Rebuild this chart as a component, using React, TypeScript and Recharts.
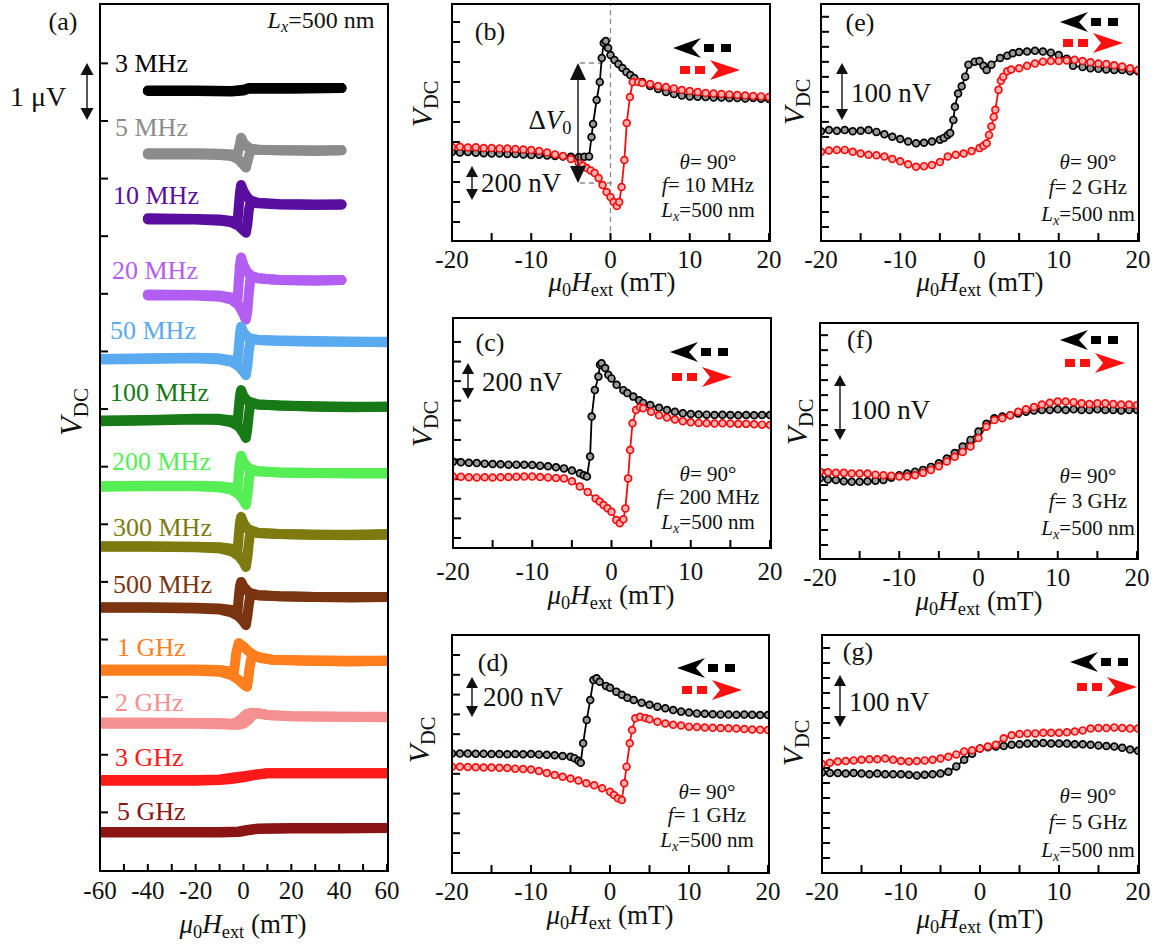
import React from "react";
import { LineChart, Line, XAxis, YAxis, ReferenceLine } from "recharts";

const SERIF = '"Liberation Serif", "Times New Roman", serif';

type Pt = [number, number];

// ---------- panel (a): V_DC traces (uV, offset stacked), down- and up-sweep ----------
const a3MHzDown: Pt[] = [[-40, 13.53], [-20, 13.53], [-5, 13.52], [0, 13.54], [2, 13.57], [20, 13.57], [41, 13.57]];
const a3MHzUp: Pt[] = [[-40, 13.52], [-20, 13.52], [-5, 13.51], [0, 13.53], [2, 13.56], [20, 13.56], [41, 13.57]];
const a5MHzDown: Pt[] = [[-40, 12.44], [-20, 12.44], [-10, 12.43], [-4, 12.42], [-2.5, 12.42], [-1.5, 12.6], [-1, 12.71], [0, 12.62], [1.5, 12.56], [3, 12.52], [6, 12.5], [15, 12.49], [30, 12.49], [41, 12.49]];
const a5MHzUp: Pt[] = [[-40, 12.42], [-20, 12.42], [-10, 12.41], [-5, 12.39], [-2, 12.33], [0, 12.24], [1, 12.19], [2, 12.35], [3, 12.5], [6, 12.5], [15, 12.49], [30, 12.48], [41, 12.49]];
const a10MHzDown: Pt[] = [[-40, 11.31], [-20, 11.3], [-10, 11.29], [-4, 11.26], [-2.5, 11.25], [-2, 11.5], [-1.5, 11.75], [-1, 11.89], [0, 11.78], [1.5, 11.68], [3, 11.62], [6, 11.58], [15, 11.56], [30, 11.55], [41, 11.55]];
const a10MHzUp: Pt[] = [[-40, 11.29], [-20, 11.29], [-10, 11.27], [-5, 11.24], [-2, 11.18], [0, 11.1], [1, 11.06], [1.6, 11.2], [2.2, 11.45], [3, 11.6], [6, 11.57], [15, 11.55], [30, 11.54], [41, 11.55]];
const a20MHzDown: Pt[] = [[-40, 9.99], [-20, 9.98], [-10, 9.97], [-4, 9.93], [-2.5, 9.9], [-2, 10.2], [-1.5, 10.5], [-1, 10.63], [0, 10.5], [1.5, 10.38], [3, 10.32], [6, 10.27], [15, 10.24], [30, 10.23], [41, 10.24]];
const a20MHzUp: Pt[] = [[-40, 9.97], [-20, 9.97], [-10, 9.95], [-5, 9.9], [-2, 9.8], [0, 9.65], [1, 9.55], [1.6, 9.7], [2.2, 10.0], [3, 10.3], [6, 10.27], [15, 10.24], [30, 10.23], [41, 10.24]];
const a50MHzDown: Pt[] = [[-60, 8.87], [-40, 8.88], [-20, 8.89], [-10, 8.88], [-4, 8.84], [-2.5, 8.82], [-2, 9.05], [-1.5, 9.3], [-1, 9.43], [0, 9.33], [1.5, 9.26], [3, 9.22], [6, 9.2], [15, 9.19], [30, 9.18], [45, 9.17], [60, 9.17]];
const a50MHzUp: Pt[] = [[-60, 8.86], [-40, 8.87], [-20, 8.88], [-10, 8.86], [-5, 8.82], [-2, 8.74], [0, 8.65], [1, 8.59], [1.6, 8.75], [2.2, 9.0], [3, 9.22], [6, 9.2], [15, 9.18], [30, 9.17], [45, 9.17], [60, 9.16]];
const a100MHzDown: Pt[] = [[-60, 7.8], [-40, 7.81], [-20, 7.83], [-10, 7.83], [-4, 7.8], [-2.5, 7.78], [-2, 8.0], [-1.5, 8.22], [-1, 8.33], [0, 8.22], [1.5, 8.15], [3, 8.11], [6, 8.08], [15, 8.06], [30, 8.05], [45, 8.04], [60, 8.04]];
const a100MHzUp: Pt[] = [[-60, 7.79], [-40, 7.8], [-20, 7.82], [-10, 7.81], [-5, 7.77], [-2, 7.7], [0, 7.58], [1, 7.5], [1.6, 7.65], [2.2, 7.9], [3, 8.12], [6, 8.08], [15, 8.06], [30, 8.04], [45, 8.03], [60, 8.04]];
const a200MHzDown: Pt[] = [[-60, 6.66], [-40, 6.67], [-20, 6.67], [-10, 6.66], [-4, 6.63], [-2.5, 6.6], [-2, 6.85], [-1.5, 7.08], [-1, 7.19], [0, 7.08], [1.5, 7.0], [3, 6.95], [6, 6.92], [15, 6.9], [30, 6.89], [45, 6.89], [60, 6.89]];
const a200MHzUp: Pt[] = [[-60, 6.65], [-40, 6.66], [-20, 6.66], [-10, 6.64], [-5, 6.6], [-2, 6.52], [0, 6.42], [1, 6.34], [1.6, 6.5], [2.2, 6.75], [3, 6.96], [6, 6.92], [15, 6.9], [30, 6.89], [45, 6.88], [60, 6.88]];
const a300MHzDown: Pt[] = [[-60, 5.62], [-40, 5.62], [-20, 5.61], [-10, 5.6], [-4, 5.57], [-2.5, 5.54], [-2, 5.8], [-1.5, 6.02], [-1, 6.13], [0, 6.02], [1.5, 5.93], [3, 5.88], [6, 5.85], [15, 5.83], [30, 5.82], [45, 5.82], [60, 5.83]];
const a300MHzUp: Pt[] = [[-60, 5.61], [-40, 5.61], [-20, 5.6], [-10, 5.58], [-5, 5.53], [-2, 5.45], [0, 5.34], [1, 5.26], [1.6, 5.42], [2.2, 5.67], [3, 5.9], [6, 5.85], [15, 5.83], [30, 5.82], [45, 5.81], [60, 5.82]];
const a500MHzDown: Pt[] = [[-60, 4.56], [-40, 4.56], [-20, 4.55], [-10, 4.54], [-4, 4.51], [-2.5, 4.48], [-2, 4.72], [-1.5, 4.92], [-1, 5.0], [0, 4.92], [1.5, 4.85], [3, 4.8], [6, 4.77], [15, 4.75], [30, 4.74], [45, 4.74], [60, 4.74]];
const a500MHzUp: Pt[] = [[-60, 4.55], [-40, 4.55], [-20, 4.54], [-10, 4.52], [-5, 4.47], [-2, 4.4], [0, 4.31], [1, 4.25], [1.6, 4.4], [2.2, 4.6], [3, 4.8], [6, 4.77], [15, 4.75], [30, 4.74], [45, 4.73], [60, 4.74]];
const a1GHzDown: Pt[] = [[-60, 3.48], [-40, 3.48], [-20, 3.48], [-10, 3.47], [-5, 3.44], [-4, 3.43], [-3.5, 3.6], [-3, 3.78], [-2, 3.94], [0, 3.88], [2, 3.8], [4, 3.74], [7, 3.68], [12, 3.65], [25, 3.64], [45, 3.63], [60, 3.63]];
const a1GHzUp: Pt[] = [[-60, 3.46], [-40, 3.46], [-20, 3.46], [-10, 3.44], [-5, 3.38], [-2, 3.3], [0, 3.22], [1.5, 3.18], [2, 3.32], [2.5, 3.5], [3.5, 3.72], [6, 3.7], [12, 3.65], [25, 3.63], [45, 3.62], [60, 3.63]];
const a2GHzDown: Pt[] = [[-60, 2.56], [-40, 2.56], [-20, 2.55], [-10, 2.55], [-5, 2.54], [-3, 2.56], [-1, 2.62], [1, 2.7], [3, 2.73], [6, 2.72], [10, 2.69], [20, 2.67], [40, 2.66], [60, 2.66]];
const a2GHzUp: Pt[] = [[-60, 2.54], [-40, 2.54], [-20, 2.54], [-10, 2.53], [-5, 2.52], [-2, 2.52], [0, 2.54], [2, 2.6], [4, 2.7], [6, 2.72], [10, 2.69], [20, 2.67], [40, 2.66], [60, 2.65]];
const a3GHzDown: Pt[] = [[-60, 1.56], [-40, 1.56], [-20, 1.56], [-10, 1.57], [-5, 1.6], [0, 1.63], [5, 1.66], [10, 1.68], [20, 1.68], [40, 1.68], [60, 1.68]];
const a3GHzUp: Pt[] = [[-60, 1.55], [-40, 1.55], [-20, 1.55], [-10, 1.56], [-5, 1.58], [0, 1.61], [5, 1.65], [10, 1.68], [20, 1.68], [40, 1.68], [60, 1.68]];
const a5GHzDown: Pt[] = [[-60, 0.66], [-40, 0.66], [-20, 0.66], [-10, 0.66], [-2, 0.67], [2, 0.7], [6, 0.72], [20, 0.73], [40, 0.73], [60, 0.73]];
const a5GHzUp: Pt[] = [[-60, 0.65], [-40, 0.65], [-20, 0.65], [-10, 0.65], [-2, 0.66], [2, 0.69], [6, 0.71], [20, 0.72], [40, 0.72], [60, 0.73]];

const aLabels = ["3 MHz", "5 MHz", "10 MHz", "20 MHz", "50 MHz", "100 MHz", "200 MHz", "300 MHz", "500 MHz", "1 GHz", "2 GHz", "3 GHz", "5 GHz"];
const aColors = ["#000000", "#8c8c8c", "#5a0ea0", "#b25ef2", "#5aaaf0", "#177a17", "#55ee55", "#7d7a10", "#7a3510", "#ff7f1e", "#f49090", "#ff1a1a", "#8b1515"];
const aDown = [a3MHzDown, a5MHzDown, a10MHzDown, a20MHzDown, a50MHzDown, a100MHzDown, a200MHzDown, a300MHzDown, a500MHzDown, a1GHzDown, a2GHzDown, a3GHzDown, a5GHzDown];
const aUp = [a3MHzUp, a5MHzUp, a10MHzUp, a20MHzUp, a50MHzUp, a100MHzUp, a200MHzUp, a300MHzUp, a500MHzUp, a1GHzUp, a2GHzUp, a3GHzUp, a5GHzUp];

// ---------- panels (b)-(g): black = sweep down, red = sweep up (nV) ----------
const bBlack: Pt[] = [[-20, 440], [-19, 438], [-18, 440], [-17, 436], [-16, 434], [-15, 432], [-14, 433], [-13, 430], [-12, 430], [-11, 428], [-10, 425], [-9, 426], [-8, 422], [-7, 420], [-6, 418], [-5, 416], [-4, 415], [-3.3, 416], [-2.7, 418], [-2.4, 515], [-2.2, 580], [-1.75, 700], [-1.35, 790], [-1.1, 910], [-0.85, 985], [-0.6, 995], [-0.3, 960], [0, 925], [0.5, 900], [1, 880], [1.5, 860], [2, 840], [2.5, 825], [3, 810], [4, 790], [5, 770], [6, 755], [7, 740], [8, 730], [9, 722], [10, 718], [11, 716], [12, 715], [13, 712], [14, 712], [15, 710], [16, 710], [17, 708], [18, 710], [19, 706], [20, 705]];
const bRed: Pt[] = [[-20, 465], [-19, 466], [-18, 462], [-17, 464], [-16, 460], [-15, 460], [-14, 458], [-13, 457], [-12, 455], [-11, 452], [-10, 450], [-9, 445], [-8, 437], [-7, 428], [-6, 420], [-5, 405], [-4, 385], [-3.5, 372], [-3, 360], [-2.5, 348], [-2, 335], [-1.5, 310], [-1, 275], [-0.5, 240], [0, 215], [0.4, 190], [0.8, 170], [1.1, 190], [1.4, 265], [1.75, 400], [2.05, 585], [2.45, 715], [2.8, 790], [3.5, 790], [4, 785], [5, 780], [6, 770], [7, 765], [8, 758], [9, 750], [10, 745], [11, 740], [12, 735], [13, 732], [14, 730], [15, 728], [16, 725], [17, 722], [18, 720], [19, 718], [20, 715]];

const cBlack: Pt[] = [[-20, 435], [-19, 432], [-18, 430], [-17, 428], [-16, 425], [-15, 423], [-14, 422], [-13, 420], [-12, 420], [-11, 419], [-10, 418], [-9, 415], [-8, 412], [-7, 407], [-6, 401], [-5, 390], [-4, 376], [-3.5, 366], [-3.1, 359], [-2.7, 461], [-2.5, 665], [-2.1, 801], [-1.65, 869], [-1.45, 929], [-1.25, 937], [-0.8, 913], [-0.4, 878], [0, 860], [0.65, 827], [1.5, 800], [2, 785], [2.75, 767], [3.5, 748], [4, 735], [4.9, 724], [6, 710], [7, 699], [8, 690], [9, 682], [10, 678], [11, 676], [12, 675], [13, 673], [14, 674], [15, 673], [16, 672], [17, 673], [18, 672], [19, 673], [20, 673]];
const cRed: Pt[] = [[-20, 359], [-19, 358], [-18, 356], [-17, 355], [-16, 356], [-15, 354], [-14, 356], [-13, 357], [-12, 358], [-11, 359], [-10, 359], [-9, 357], [-8, 355], [-7, 352], [-6, 350], [-5, 335], [-4, 308], [-3, 280], [-2, 248], [-1.5, 232], [-1, 214], [-0.5, 198], [0, 180], [0.6, 138], [1.05, 121], [1.5, 141], [1.75, 197], [2.1, 350], [2.35, 495], [2.65, 631], [3.1, 699], [3.6, 713], [4, 708], [5, 690], [6, 672], [7, 660], [8, 650], [9, 642], [10, 636], [11, 633], [12, 631], [13, 630], [14, 631], [15, 630], [16, 628], [17, 628], [18, 626], [19, 624], [20, 622]];

const dBlack: Pt[] = [[-20, 599], [-19, 598], [-18, 598], [-17, 597], [-16, 597], [-15, 596], [-14, 596], [-13, 595], [-12, 596], [-11, 595], [-10, 596], [-9, 594], [-8, 592], [-7, 590], [-6, 586], [-5, 582], [-4.5, 575], [-4, 562], [-3.7, 552], [-3.4, 650], [-2.95, 768], [-2.5, 869], [-2.1, 970], [-1.7, 978], [-1.3, 961], [-0.5, 940], [0, 930], [0.8, 911], [1.5, 895], [2.2, 880], [3, 869], [4, 855], [5, 845], [6, 835], [7, 827], [8, 818], [9, 810], [10, 805], [11, 801], [12, 799], [13, 797], [14, 796], [15, 795], [16, 794], [17, 795], [18, 794], [19, 793], [20, 793]];
const dRed: Pt[] = [[-20, 532], [-19, 531], [-18, 530], [-17, 529], [-16, 528], [-15, 528], [-14, 526], [-13, 525], [-12, 522], [-11, 520], [-10, 518], [-9, 510], [-8, 500], [-7, 490], [-6, 481], [-5, 472], [-4, 462], [-3, 448], [-2, 438], [-1, 423], [0, 405], [0.5, 389], [1, 372], [1.5, 364], [1.8, 448], [2.1, 532], [2.5, 650], [2.8, 717], [3.2, 776], [3.8, 784], [4.5, 778], [5, 772], [6, 759], [7, 750], [8, 744], [9, 740], [10, 734], [11, 732], [12, 730], [13, 728], [14, 727], [15, 726], [16, 725], [17, 722], [18, 720], [19, 718], [20, 717]];

const eBlack: Pt[] = [[-20, 181], [-19, 183], [-18, 182], [-17, 183], [-16, 181], [-15, 182], [-14, 183], [-13, 180], [-12, 176], [-11, 172], [-10, 168], [-9, 164], [-8, 161], [-7, 162], [-6, 164], [-5, 167], [-4.5, 170], [-4, 175], [-3.7, 178], [-3.3, 200], [-3.1, 222], [-2.7, 244], [-2.25, 256], [-1.8, 272], [-1.4, 292], [-0.6, 297], [0, 298], [0.5, 290], [0.9, 283], [1.5, 292], [2.6, 303], [3.5, 307], [4.2, 311], [5, 313], [6, 314], [7, 315], [8, 314], [9, 312], [10, 308], [11, 302], [11.8, 290], [13, 288], [14, 286], [15, 285], [16, 284], [17, 283], [18, 283], [19, 281], [20, 281]];
const eRed: Pt[] = [[-20, 147], [-19, 149], [-18, 150], [-17, 150], [-16, 147], [-15, 144], [-14, 142], [-13, 141], [-12, 139], [-11, 135], [-10, 131], [-9, 126], [-8, 122], [-7, 123], [-6, 125], [-5, 130], [-4, 139], [-3, 142], [-2, 144], [-1, 148], [0, 153], [0.5, 157], [0.9, 161], [1.2, 175], [1.5, 189], [1.8, 205], [2, 217], [2.4, 250], [2.7, 265], [3, 272], [3.5, 281], [4, 284], [5, 286], [6, 290], [7, 294], [8, 297], [9, 298], [10, 298], [11, 299], [12, 300], [13, 298], [14, 296], [15, 294], [16, 293], [17, 291], [18, 289], [19, 286], [20, 283]];

const fBlack: Pt[] = [[-20, 133], [-19, 131], [-18, 130], [-17, 128], [-16, 127], [-15, 127], [-14, 128], [-13, 129], [-12, 130], [-11, 134], [-10, 138], [-9, 141], [-8, 144], [-7, 147], [-6, 152], [-5, 158], [-4, 166], [-3, 175], [-2, 186], [-1, 197], [0, 211], [1, 224], [2, 233], [3, 236], [4, 238], [5, 241], [6, 244], [7, 246], [8, 247], [9, 247], [10, 248], [11, 247], [12, 248], [13, 247], [14, 247], [15, 248], [16, 247], [17, 247], [18, 246], [19, 247], [20, 247]];
const fRed: Pt[] = [[-20, 144], [-19, 143], [-18, 142], [-17, 142], [-16, 141], [-15, 141], [-14, 141], [-13, 139], [-12, 138], [-11, 137], [-10, 136], [-9, 136], [-8, 138], [-7, 142], [-6, 147], [-5, 153], [-4, 161], [-3, 169], [-2, 177], [-1, 186], [0, 200], [1, 219], [2, 230], [3, 233], [4, 238], [5, 244], [6, 248], [7, 252], [8, 256], [9, 259], [10, 261], [11, 261], [12, 260], [13, 258], [14, 257], [15, 258], [16, 258], [17, 257], [18, 256], [19, 256], [20, 255]];

const gBlack: Pt[] = [[-20, 166], [-19, 165], [-18, 165], [-17, 164], [-16, 165], [-15, 164], [-14, 163], [-13, 164], [-12, 163], [-11, 163], [-10, 163], [-9, 162], [-8, 161], [-7, 162], [-6, 163], [-5, 164], [-4, 167], [-3, 176], [-2, 187], [-1, 197], [0, 206], [1, 208], [2, 209], [3, 210], [4, 212], [5, 213], [6, 214], [7, 214], [8, 215], [9, 214], [10, 214], [11, 214], [12, 213], [13, 213], [14, 212], [15, 211], [16, 210], [17, 209], [18, 207], [19, 204], [20, 202]];
const gRed: Pt[] = [[-20, 180], [-19, 182], [-18, 184], [-17, 185], [-16, 186], [-15, 187], [-14, 188], [-13, 188], [-12, 189], [-11, 187], [-10, 185], [-9, 184], [-8, 185], [-7, 186], [-6, 187], [-5, 189], [-4, 192], [-3, 196], [-2, 201], [-1, 203], [0, 206], [1, 209], [2, 212], [3, 223], [4, 228], [5, 230], [6, 231], [7, 231], [8, 232], [9, 232], [10, 232], [11, 233], [12, 234], [13, 236], [14, 239], [15, 240], [16, 240], [17, 241], [18, 240], [19, 239], [20, 239]];

// ---------- axes ----------
const aXTicks = [-60, -50, -40, -30, -20, -10, 0, 10, 20, 30, 40, 50, 60];
const aXLabels = [-60, -40, -20, 0, 20, 40, 60];
const smallXTicks = [-20, -15, -10, -5, 0, 5, 10, 15, 20];
const smallXLabels = [-20, -10, 0, 10, 20];
const freqLabels = ["10 MHz", "200 MHz", "1 GHz", "2 GHz", "3 GHz", "5 GHz"];

const ticksFrom = (start: number, step: number, n: number) =>
  Array.from({ length: n }, (_, i) => +(start + i * step).toFixed(2));

const pts = (a: Pt[]) => a.map(([x, y]) => ({ x, y }));

type Box = { x: number; y: number; w: number; h: number };
type SeriesCfg = { data: Pt[]; stroke: string; fill?: string; width: number; r: number };

function Panel({
  box, xDomain, xTicks, xLabels, yDomain, yTicks, series, labelGap = 17.5, xTickLen = 7, refLines,
}: {
  box: Box; xDomain: [number, number]; xTicks: number[]; xLabels: number[];
  yDomain: [number, number]; yTicks: number[]; series: SeriesCfg[]; labelGap?: number; xTickLen?: number;
  refLines?: React.ReactNode[];
}) {
  const ML = 60, MT = 10, MR = 30, MB = 50;
  return (
    <>
      <div style={{ position: "absolute", left: box.x - ML, top: box.y - MT }}>
        <LineChart width={box.w + ML + MR} height={box.h + MT + MB} margin={{ top: MT, right: MR, bottom: 0, left: 0 }}>
          <XAxis
            type="number" dataKey="x" domain={xDomain} ticks={xTicks} interval={0} allowDataOverflow
            height={MB} axisLine={false} tickSize={-xTickLen} tickMargin={labelGap}
            tickLine={{ stroke: "#000", strokeWidth: 2 }}
            tick={{ fill: "#111", fontSize: 25, fontFamily: SERIF }}
            tickFormatter={(v: number) => (xLabels.includes(v) ? String(v) : "")}
          />
          <YAxis
            type="number" domain={yDomain} ticks={yTicks} interval={0} allowDataOverflow
            width={ML} axisLine={false} tickSize={-8} tickFormatter={() => ""}
            tickLine={{ stroke: "#000", strokeWidth: 2 }}
          />
          {refLines}
          {series.map((s, i) => (
            <Line
              key={i} data={pts(s.data)} dataKey="y" type="linear" stroke={s.stroke} strokeWidth={s.width}
              strokeLinecap="round" strokeLinejoin="round"
              dot={s.r > 0 ? { r: s.r, fill: s.fill, stroke: s.stroke, strokeWidth: 1.7 } : false}
              activeDot={false} isAnimationActive={false}
            />
          ))}
        </LineChart>
      </div>
      <div style={{
        position: "absolute", left: box.x - 1.5, top: box.y - 1.5, width: box.w + 3, height: box.h + 3,
        border: "2.5px solid #000", boxSizing: "border-box", pointerEvents: "none",
      }} />
    </>
  );
}

function Txt({ x, y, size = 22, color = "#111", rot = false, align = "center", children }: {
  x: number; y: number; size?: number; color?: string; rot?: boolean; align?: "center" | "left"; children: React.ReactNode;
}) {
  const tx = align === "left" ? "0" : "-50%";
  return (
    <div style={{
      position: "absolute", left: x, top: y, whiteSpace: "nowrap", fontFamily: SERIF, fontSize: size, color,
      lineHeight: 0.85, transform: `translate(${tx}, -50%)${rot ? " rotate(-90deg)" : ""}`,
    }}>{children}</div>
  );
}

const I = ({ children }: { children: React.ReactNode }) => <span style={{ fontStyle: "italic" }}>{children}</span>;
const Sub = ({ children, it = false }: { children: React.ReactNode; it?: boolean }) => (
  <span style={{ fontSize: "0.68em", verticalAlign: "-0.28em", fontStyle: it ? "italic" : "normal" }}>{children}</span>
);

const XTitle = () => (<><I>μ</I><Sub>0</Sub><I>H</I><Sub>ext</Sub> (mT)</>);
const VDC = () => (<><I>V</I><Sub>DC</Sub></>);
const Lx = () => (<><I>L</I><Sub it>x</Sub>=500 nm</>);

function VArrow({ x, y1, y2, hw = 12, hh = 11 }: { x: number; y1: number; y2: number; hw?: number; hh?: number }) {
  return (
    <g fill="#111">
      <line x1={x} y1={y1 + hh - 1} x2={x} y2={y2 - hh + 1} stroke="#111" strokeWidth={1.4} />
      <polygon points={`${x},${y1} ${x - hw / 2},${y1 + hh} ${x + hw / 2},${y1 + hh}`} />
      <polygon points={`${x},${y2} ${x - hw / 2},${y2 - hh} ${x + hw / 2},${y2 - hh}`} />
    </g>
  );
}

function LegLeft({ x, y }: { x: number; y: number }) {
  return (
    <g fill="#000">
      <polygon points={`${x},${y} ${x + 28},${y - 10} ${x + 19},${y} ${x + 28},${y + 10}`} />
      <rect x={x + 31} y={y - 4} width={10} height={8} />
      <rect x={x + 48} y={y - 4} width={10} height={8} />
    </g>
  );
}

function LegRight({ x, y }: { x: number; y: number }) {
  return (
    <g fill="#ff1010">
      <rect x={x} y={y - 4} width={10} height={8} />
      <rect x={x + 15} y={y - 4} width={10} height={8} />
      <polygon points={`${x + 60},${y} ${x + 30},${y - 10} ${x + 38},${y} ${x + 30},${y + 10}`} />
    </g>
  );
}

const blk = (data: Pt[]): SeriesCfg => ({ data, stroke: "#000", fill: "#9a9a9a", width: 1.8, r: 3.4 });
const red = (data: Pt[]): SeriesCfg => ({ data, stroke: "#f01010", fill: "#ffb0b0", width: 1.8, r: 3.4 });

const aLabelY = [64, 128, 196, 271, 331, 393, 462, 528, 585, 648, 703, 758, 812];
const aLabelX = [115, 115, 113, 112, 110, 110, 112, 113, 113, 117, 115, 115, 117];

export default function App() {
  const boxA = { x: 100, y: 4, w: 287, h: 866 };
  const boxB = { x: 452, y: 4, w: 317, h: 236 };
  const boxC = { x: 453, y: 318, w: 317, h: 229 };
  const boxD = { x: 452, y: 635, w: 316, h: 237 };
  const boxE = { x: 821, y: 4, w: 317, h: 236 };
  const boxF = { x: 820, y: 323, w: 317, h: 235 };
  const boxG = { x: 822, y: 635, w: 316, h: 237 };

  const aSeries: SeriesCfg[] = [];
  aDown.forEach((d, i) => {
    aSeries.push({ data: d, stroke: aColors[i], width: 10, r: 0 });
    aSeries.push({ data: aUp[i], stroke: aColors[i], width: 10, r: 0 });
  });

  const small = { xDomain: [-20, 20] as [number, number], xTicks: smallXTicks, xLabels: smallXLabels };
  const dash = { stroke: "#8a8a8a", strokeDasharray: "5 4", strokeWidth: 1.3 };

  const infoX = [708, 708, 707, 1088, 1088, 1088];
  const infoY = [163, 475, 793, 163, 477, 797];
  const infoGap = [23, 23, 23, 25, 25, 26];

  return (
    <div style={{ position: "absolute", left: 0, top: 0, width: 1158, height: 947, background: "#fff", overflow: "hidden" }}>
      <Panel box={boxA} xDomain={[-60, 60]} xTicks={aXTicks} xLabels={aXLabels} yDomain={[0, 15.03]}
        yTicks={ticksFrom(1, 1, 14)} series={aSeries} xTickLen={6} />
      <Panel box={boxB} {...small} yDomain={[0, 1180]} yTicks={ticksFrom(90, 100, 11)} series={[blk(bBlack), red(bRed)]}
        refLines={[
          <ReferenceLine key="v0" x={0} {...dash} />,
          <ReferenceLine key="h1" segment={[{ x: -3.85, y: 885 }, { x: -0.7, y: 885 }]} {...dash} />,
          <ReferenceLine key="h2" segment={[{ x: -3.85, y: 285 }, { x: 0.3, y: 285 }]} {...dash} />,
        ]} />
      <Panel box={boxC} {...small} yDomain={[0, 1168]} yTicks={ticksFrom(46, 100, 11)} series={[blk(cBlack), red(cRed)]} labelGap={22.5} />
      <Panel box={boxD} {...small} yDomain={[0, 1197]} yTicks={ticksFrom(96, 100, 11)} series={[blk(dBlack), red(dRed)]} />
      <Panel box={boxE} {...small} yDomain={[0, 393]} yTicks={ticksFrom(21.7, 25, 15)} series={[blk(eBlack), red(eRed)]} />
      <Panel box={boxF} {...small} yDomain={[0, 392]} yTicks={ticksFrom(21.7, 25, 15)} series={[blk(fBlack), red(fRed)]} />
      <Panel box={boxG} {...small} yDomain={[0, 395]} yTicks={ticksFrom(23.3, 25, 15)} series={[blk(gBlack), red(gRed)]} />

      {/* panel (a) texts */}
      <Txt x={63} y={22} size={26}>(a)</Txt>
      <Txt x={321} y={22} size={24}><Lx /></Txt>
      <Txt x={38} y={97} size={28}>1 μV</Txt>
      <Txt x={75} y={412} size={31} rot><VDC /></Txt>
      <Txt x={243} y={927} size={27}><XTitle /></Txt>
      {aLabels.map((l, i) => (
        <Txt key={l} x={aLabelX[i]} y={aLabelY[i]} size={26} color={aColors[i]} align="left">{l}</Txt>
      ))}

      {/* small panels texts */}
      {[["(b)", 490, 32], ["(c)", 490, 343], ["(d)", 493, 663], ["(e)", 860, 23], ["(f)", 860, 340], ["(g)", 858, 652]].map(([t, x, y]) => (
        <Txt key={t as string} x={x as number} y={y as number} size={26}>{t}</Txt>
      ))}
      {[[425, 104], [425, 424], [422, 740], [797, 102], [800, 422], [796, 743]].map(([x, y], i) => (
        <Txt key={"v" + i} x={x} y={y} size={30} rot><VDC /></Txt>
      ))}
      {[[612, 285], [611, 598], [610, 918], [980, 285], [979, 604], [980, 922]].map(([x, y], i) => (
        <Txt key={"t" + i} x={x} y={y} size={27}><XTitle /></Txt>
      ))}
      {freqLabels.map((f, i) => (
        <React.Fragment key={"i" + i}>
          <Txt x={infoX[i]} y={infoY[i]} size={21}><I>θ</I>= 90°</Txt>
          <Txt x={infoX[i]} y={infoY[i] + infoGap[i]} size={21}><I>f</I>= {f}</Txt>
          <Txt x={infoX[i]} y={infoY[i] + 2 * infoGap[i] + 3} size={21}><Lx /></Txt>
        </React.Fragment>
      ))}
      <Txt x={521} y={183} size={27}>200 nV</Txt>
      <Txt x={522} y={382} size={27}>200 nV</Txt>
      <Txt x={523} y={697} size={27}>200 nV</Txt>
      <Txt x={891} y={93} size={27}>100 nV</Txt>
      <Txt x={890} y={410} size={27}>100 nV</Txt>
      <Txt x={889} y={702} size={27}>100 nV</Txt>
      <Txt x={550} y={123} size={27}>Δ<I>V</I><Sub>0</Sub></Txt>

      <svg width={1158} height={947} style={{ position: "absolute", left: 0, top: 0, pointerEvents: "none" }}>
        <VArrow x={87} y1={63} y2={120} hw={13} hh={12} />
        <VArrow x={472} y1={166} y2={200} />
        <VArrow x={578} y1={63} y2={183} hw={16} hh={17} />
        <VArrow x={468} y1={363} y2={399} />
        <VArrow x={472} y1={677} y2={717} />
        <VArrow x={842} y1={63} y2={120} />
        <VArrow x={840} y1={375} y2={440} />
        <VArrow x={840} y1={675} y2={727} />
        <LegLeft x={673} y={48} /><LegRight x={680} y={70} />
        <LegLeft x={670} y={352} /><LegRight x={672} y={377} />
        <LegLeft x={677} y={668} /><LegRight x={682} y={690} />
        <LegLeft x={1060} y={22} /><LegRight x={1063} y={43} />
        <LegLeft x={1060} y={340} /><LegRight x={1065} y={363} />
        <LegLeft x={1070} y={662} /><LegRight x={1077} y={687} />
      </svg>
    </div>
  );
}
